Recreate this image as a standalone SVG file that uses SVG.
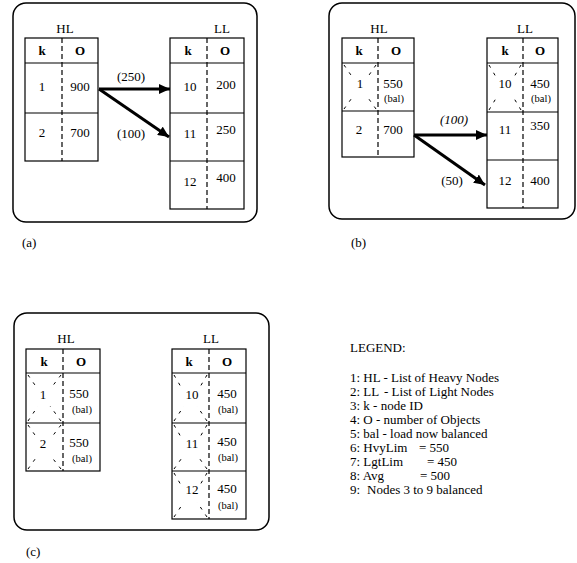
<svg xmlns="http://www.w3.org/2000/svg" width="577" height="563" viewBox="0 0 577 563">
<defs>
<style>
text{font-family:"Liberation Serif","Times New Roman",serif;font-size:13px;fill:#000}
.c{text-anchor:middle}
.b{font-weight:bold}
.s{font-size:10.5px}
.panel{fill:none;stroke:#000;stroke-width:1.5}
.tbl{fill:#fff;stroke:#000;stroke-width:1.2}
.row{stroke:#000;stroke-width:1.2}
.div{stroke:#000;stroke-width:1.2;stroke-dasharray:5 3}
.x{stroke:#000;stroke-width:1;stroke-dasharray:3 6;fill:none}
.arr{stroke:#000;stroke-width:3;fill:none;marker-end:url(#ah)}
</style>
<marker id="ah" markerUnits="userSpaceOnUse" markerWidth="12" markerHeight="10" refX="11" refY="5" orient="auto">
<path d="M0,0 L11,5 L0,10 Z" fill="#000"/>
</marker>
</defs>

<rect class="panel" x="13" y="3" width="244" height="219" rx="13"/>
<rect class="panel" x="329" y="3" width="246" height="216" rx="13"/>
<rect class="panel" x="14" y="313" width="255" height="217" rx="13"/>

<!-- Panel (a) -->
<g id="a-HL">
<text class="c" x="65" y="33">HL</text>
<rect class="tbl" x="25" y="38" width="73" height="123"/>
<line class="row" x1="25" y1="63" x2="98" y2="63"/>
<line class="row" x1="25" y1="113" x2="98" y2="113"/>
<line class="div" x1="62" y1="38" x2="62" y2="161"/>
<text class="c b" x="42" y="55">k</text><text class="c b" x="80" y="55">O</text>
<text class="c" x="42" y="91">1</text><text class="c" x="80" y="91">900</text>
<text class="c" x="42" y="137">2</text><text class="c" x="80" y="137">700</text>
</g>
<g id="a-LL">
<text class="c" x="222" y="33">LL</text>
<rect class="tbl" x="170" y="38" width="74" height="171"/>
<line class="row" x1="170" y1="63" x2="244" y2="63"/>
<line class="row" x1="170" y1="113" x2="244" y2="113"/>
<line class="row" x1="170" y1="161" x2="244" y2="161"/>
<line class="div" x1="207" y1="38" x2="207" y2="209"/>
<text class="c b" x="188" y="55">k</text><text class="c b" x="225" y="55">O</text>
<text class="c" x="190" y="91">10</text><text class="c" x="226" y="89">200</text>
<text class="c" x="190" y="138">11</text><text class="c" x="226" y="134">250</text>
<text class="c" x="190" y="186">12</text><text class="c" x="226" y="182">400</text>
</g>
<text x="22" y="247">(a)</text>

<!-- Panel (b) -->
<g id="b-HL">
<text class="c" x="379" y="33">HL</text>
<rect class="tbl" x="342" y="38" width="72" height="119"/>
<line class="row" x1="342" y1="63" x2="414" y2="63"/>
<line class="row" x1="342" y1="111" x2="414" y2="111"/>
<line class="div" x1="378" y1="38" x2="378" y2="157"/>
<path class="x" d="M344,65 L353,78 M376,65 L367,78 M344,109 L354,95 M376,109 L366,95"/>
<text class="c b" x="359" y="55">k</text><text class="c b" x="396" y="55">O</text>
<text class="c" x="360" y="88">1</text><text class="c" x="393" y="88">550</text>
<text class="c s" x="394" y="102">(bal)</text>
<text class="c" x="359" y="134">2</text><text class="c" x="393" y="134">700</text>
</g>
<g id="b-LL">
<text class="c" x="525" y="33">LL</text>
<rect class="tbl" x="487" y="38" width="71" height="170"/>
<line class="row" x1="487" y1="63" x2="558" y2="63"/>
<line class="row" x1="487" y1="112" x2="558" y2="112"/>
<line class="row" x1="487" y1="160" x2="558" y2="160"/>
<line class="div" x1="523" y1="38" x2="523" y2="208"/>
<path class="x" d="M489,65 L496,77 M521,65 L514,77 M489,110 L498,95 M521,110 L512,95"/>
<text class="c b" x="505" y="55">k</text><text class="c b" x="540" y="55">O</text>
<text class="c" x="505" y="88">10</text><text class="c" x="540" y="88">450</text>
<text class="c s" x="541" y="102">(bal)</text>
<text class="c" x="505" y="134">11</text><text class="c" x="540" y="130">350</text>
<text class="c" x="505" y="185">12</text><text class="c" x="540" y="185">400</text>
</g>
<text x="351" y="247">(b)</text>

<!-- Panel (c) -->
<g id="c-HL">
<text class="c" x="66" y="343">HL</text>
<rect class="tbl" x="26" y="349" width="74" height="122"/>
<line class="row" x1="26" y1="373" x2="100" y2="373"/>
<line class="row" x1="26" y1="423" x2="100" y2="423"/>
<line class="div" x1="63" y1="349" x2="63" y2="471"/>
<path class="x" d="M28,375 L37,388 M61,375 L51,388 M28,421 L38,406 M61,421 L50,406"/>
<path class="x" d="M28,425 L37,438 M61,425 L51,438 M28,469 L38,455 M61,469 L50,455"/>
<text class="c b" x="44" y="366">k</text><text class="c b" x="81" y="366">O</text>
<text class="c" x="43" y="399">1</text><text class="c" x="79" y="398">550</text>
<text class="c s" x="82" y="413">(bal)</text>
<text class="c" x="43" y="448">2</text><text class="c" x="79" y="447">550</text>
<text class="c s" x="82" y="462">(bal)</text>
</g>
<g id="c-LL">
<text class="c" x="211" y="343">LL</text>
<rect class="tbl" x="172" y="349" width="74" height="170"/>
<line class="row" x1="172" y1="373" x2="246" y2="373"/>
<line class="row" x1="172" y1="423" x2="246" y2="423"/>
<line class="row" x1="172" y1="471" x2="246" y2="471"/>
<line class="div" x1="209" y1="349" x2="209" y2="519"/>
<path class="x" d="M174,375 L181,387 M207,375 L200,387 M174,421 L184,406 M207,421 L197,406"/>
<path class="x" d="M174,425 L181,437 M207,425 L200,437 M174,469 L184,455 M207,469 L197,455"/>
<path class="x" d="M174,473 L181,485 M207,473 L200,485 M174,517 L184,502 M207,517 L197,502"/>
<text class="c b" x="189" y="366">k</text><text class="c b" x="227" y="366">O</text>
<text class="c" x="192" y="399">10</text><text class="c" x="227" y="398">450</text>
<text class="c s" x="228" y="413">(bal)</text>
<text class="c" x="192" y="448">11</text><text class="c" x="227" y="446">450</text>
<text class="c s" x="228" y="461">(bal)</text>
<text class="c" x="192" y="494">12</text><text class="c" x="227" y="493">450</text>
<text class="c s" x="228" y="509">(bal)</text>
</g>
<text x="26" y="556">(c)</text>

<!-- Connectors -->
<g id="connectors">
<line class="arr" x1="99" y1="89" x2="170" y2="89"/>
<text class="c" x="131" y="81">(250)</text>
<line class="arr" x1="99" y1="89" x2="169" y2="137"/>
<text class="c" x="131" y="138">(100)</text>
<line class="arr" x1="414" y1="135" x2="487" y2="135"/>
<text class="c" x="454" y="124" font-style="italic">(100)</text>
<line class="arr" x1="414" y1="135" x2="485" y2="185"/>
<text class="c" x="452" y="185">(50)</text>
</g>

<!-- Legend -->
<g id="legend">
<text x="350" y="352">LEGEND:</text>
<text x="350" y="382">1: HL - List of Heavy Nodes</text>
<text x="350" y="396">2: LL<tspan x="384">- List of Light Nodes</tspan></text>
<text x="350" y="410">3: k - node ID</text>
<text x="350" y="424">4: O - number of Objects</text>
<text x="350" y="438">5: bal - load now balanced</text>
<text x="350" y="452">6: HvyLim<tspan x="419">= 550</tspan></text>
<text x="350" y="466">7: LgtLim<tspan x="427">= 450</tspan></text>
<text x="350" y="480">8: Avg<tspan x="420">= 500</tspan></text>
<text x="350" y="494">9:<tspan x="367">Nodes 3 to 9 balanced</tspan></text>
</g>
</svg>
